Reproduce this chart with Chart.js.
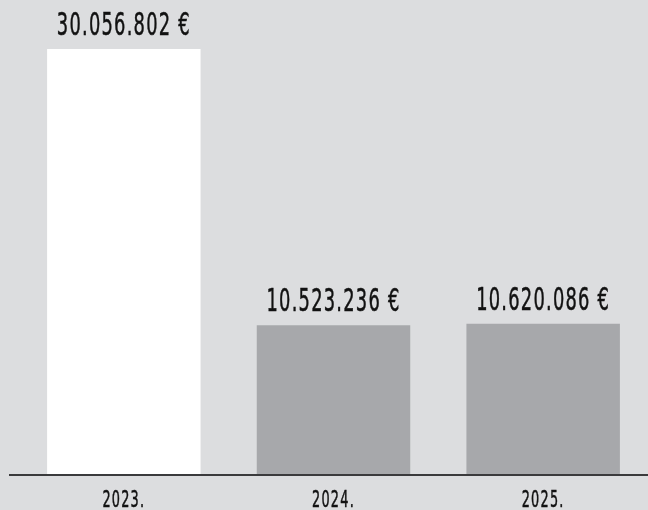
<!DOCTYPE html>
<html>
<head>
<meta charset="utf-8">
<script src="https://cdn.jsdelivr.net/npm/chart.js@4/dist/chart.umd.min.js"></script>
<style>
  html, body { margin: 0; padding: 0; background: #dcdddf; }
  #wrap { width: 648px; height: 510px; }
</style>
</head>
<body>
<div id="wrap"><canvas id="bars"></canvas></div>
<script>
const years = ['2023.', '2024.', '2025.'];
const amounts = [30056802, 10523236, 10620086];
const barColors = ['#ffffff', '#a7a8ab', '#a7a8ab'];
const FONT = '"DejaVu Sans Condensed", "DejaVu Sans", sans-serif';

function fmtEuro(v) {
    return v.toString().replace(/\B(?=(\d{3})+(?!\d))/g, '.') + ' €';
}

// draw text squeezed horizontally, the original uses a narrow DIN-like face
function narrowText(ctx, txt, x, y, size, squeeze) {
    ctx.save();
    ctx.translate(x, y);
    ctx.scale(squeeze, 1);
    ctx.font = size + 'px ' + FONT;
    ctx.letterSpacing = '2px';
    ctx.lineWidth = 0.5;
    ctx.strokeText(txt, 0, 0);
    ctx.fillText(txt, 0, 0);
    ctx.restore();
}

const labelsPlugin = {
    id: 'labelsPlugin',
    afterDatasetsDraw(chart) {
        const ctx = chart.ctx;
        const meta = chart.getDatasetMeta(0);
        const xs = chart.scales.x;
        const y0 = chart.scales.y.getPixelForValue(0);
        ctx.save();
        ctx.fillStyle = '#111';
        ctx.strokeStyle = '#111';
        ctx.textAlign = 'center';
        ctx.textBaseline = 'alphabetic';
        meta.data.forEach((bar, i) => {
            narrowText(ctx, fmtEuro(amounts[i]), bar.x, bar.y - 14, 32, 0.62);
        });
        years.forEach((yr, i) => {
            narrowText(ctx, yr, xs.getPixelForTick(i), 507, 23, 0.62);
        });
        // baseline runs a little further left than the plot area
        ctx.strokeStyle = '#3a3a3c';
        ctx.lineWidth = 2;
        ctx.beginPath();
        ctx.moveTo(9, y0 + 1);
        ctx.lineTo(chart.width, y0 + 1);
        ctx.stroke();
        ctx.restore();
    }
};

new Chart(document.getElementById('bars'), {
    type: 'bar',
    data: {
        labels: years,
        datasets: [{
            data: amounts,
            backgroundColor: barColors,
            borderWidth: 0,
            barPercentage: 0.732,
            categoryPercentage: 1
        }]
    },
    options: {
        responsive: true,
        maintainAspectRatio: false,
        animation: false,
        layout: { padding: { left: 19, right: 0, top: 0, bottom: 0 } },
        plugins: { legend: { display: false }, tooltip: { enabled: false } },
        scales: {
            x: {
                grid: { display: false, drawTicks: false },
                border: { display: false },
                ticks: { display: false },
                afterFit(scale) { scale.height = 36; }
            },
            y: {
                display: false,
                min: 0,
                max: 33520000
            }
        }
    },
    plugins: [labelsPlugin]
});
</script>
</body>
</html>
